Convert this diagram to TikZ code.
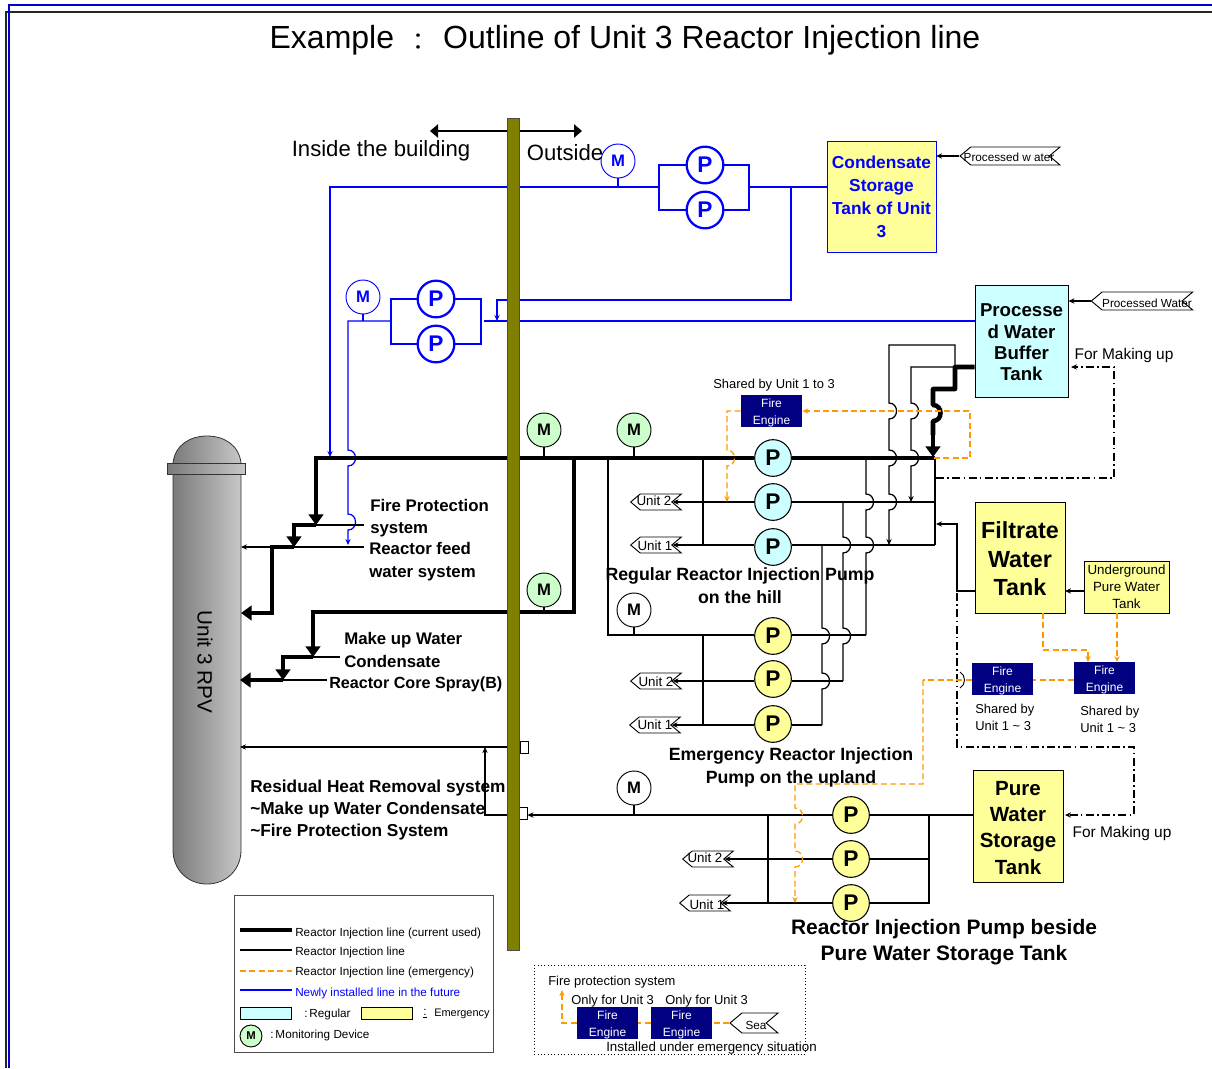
\documentclass[tikz,border=0pt]{standalone}
\usepackage{fontspec}
\setmainfont{Liberation Sans}
\newfontfamily\cjkfont{Noto Sans CJK JP}
\usetikzlibrary{arrows.meta,shapes.symbols,positioning}

\definecolor{wallolive}{RGB}{128,128,0}
\definecolor{regcyan}{RGB}{204,255,255}
\definecolor{emgyellow}{RGB}{255,255,153}
\definecolor{mongreen}{RGB}{204,255,204}
\definecolor{enginenavy}{RGB}{0,0,128}
\definecolor{emgorange}{RGB}{255,153,0}
\definecolor{newblue}{RGB}{0,0,255}

% line hop, bulging right, on a vertical run
\newcommand{\hopdown}[2]{-- (#1,#2-8) .. controls (#1+10,#2-8) and (#1+10,#2+8) .. (#1,#2+8)}
\newcommand{\hopup}[2]{-- (#1,#2+8) .. controls (#1+10,#2+8) and (#1+10,#2-8) .. (#1,#2-8)}
\newcommand{\fireengine}{\rule{0pt}{9.5pt}Fire\\Engine}

\tikzset{
    thinline/.style={draw=black, line width=0.95pt},
    thickline/.style={draw=black, line width=3.4pt},
    newline/.style={draw=newblue, line width=0.95pt},
    emgline/.style={draw=emgorange, line width=0.95pt, dash pattern=on 4.5pt off 2.5pt},
    makeline/.style={draw=black, line width=0.8pt, dash pattern=on 6pt off 2.5pt on 1.2pt off 2.5pt},
    thintip/.style={-{Stealth[length=4.5pt,width=4pt]}},
    thicktip/.style={-{Triangle[length=8pt,width=11pt]}},
    pumpbase/.style={circle, draw, line width=0.8pt, minimum size=27.5pt, inner sep=0pt, font=\fontsize{17}{17}\selectfont\bfseries},
    pumpreg/.style={pumpbase, fill=regcyan},
    pumpemg/.style={pumpbase, fill=emgyellow},
    pumpnew/.style={pumpbase, draw=newblue, text=newblue, line width=1.7pt, fill=white},
    monbase/.style={circle, draw, line width=0.7pt, minimum size=25.5pt, inner sep=0pt, font=\fontsize{12.5}{12.5}\selectfont\bfseries},
    monreg/.style={monbase, fill=mongreen},
    monwhite/.style={monbase, fill=white},
    monnew/.style={monbase, draw=newblue, text=newblue, fill=white},
    tankbox/.style={draw, rectangle, inner sep=0pt, align=center, font=\bfseries},
    engine/.style={rectangle, fill=enginenavy, text=white, minimum width=46pt, minimum height=24pt, inner sep=0pt, align=center, font=\fontsize{9}{12.7}\selectfont},
    flagtag/.style={draw, signal, signal to=west, signal from=east, signal pointer angle=80, minimum height=#1, inner sep=0pt, fill=white, line width=0.7pt},
    flagtext/.style={font=\fontsize{8.8}{11}\selectfont, inner sep=0pt},
    unittext/.style={font=\fontsize{10}{11}\selectfont, inner sep=0pt},
    boldlab/.style={font=\fontsize{12.6}{16.8}\selectfont\bfseries, inner sep=0pt},
    widelab/.style={font=\fontsize{13.3}{17.3}\selectfont\bfseries, inner sep=0pt},
    smalllab/.style={font=\fontsize{9.7}{12.8}\selectfont, inner sep=0pt},
    keytext/.style={font=\fontsize{8.8}{11}\selectfont, inner sep=0pt, anchor=west},
    wallport/.style={draw, rectangle, fill=white, minimum width=6pt, minimum height=9pt, inner sep=0pt, line width=0.6pt}
}

\begin{document}
\begin{tikzpicture}[x=0.75pt, y=-0.75pt]
    \useasboundingbox (0,0) rectangle (1212,1068);

    % Frame
    \coordinate (fa) at (6,1068);
    \coordinate (fb) at (6,11.5);
    \coordinate (fc) at (1212,11.5);
    \coordinate (fd) at (9,1068);
    \coordinate (fe) at (9,4.5);
    \coordinate (ff) at (1212,4.5);
    \draw[black!85, line width=1.5pt] (fa) -- (fb) -- (fc);
    \draw[blue!80!black, line width=1.5pt] (fd) -- (fe) -- (ff);

    % Titles
    \node[font=\fontsize{24}{28}\selectfont, inner sep=0pt] (title) at (625,40) {Example\hspace{9.4pt}\raisebox{-1.5pt}{\cjkfont\fontsize{18}{18}\selectfont ：}\hspace{9.4pt}Outline of Unit 3 Reactor Injection line};
    \node[font=\fontsize{16.6}{20}\selectfont, inner sep=0pt] (inside) at (381,151) {Inside the building};
    \node[font=\fontsize{16.6}{20}\selectfont, inner sep=0pt] (outside) at (565,153) {Outside};
    \coordinate (sideleft) at (430,131);
    \coordinate (sideright) at (582,131);
    \draw[thinline, {Triangle[length=6pt,width=10pt]}-{Triangle[length=6pt,width=10pt]}] (sideleft) -- (sideright);

    % Reactor vessel
    \shade[left color=black!52, right color=black!22, draw=black!80, line width=0.6pt] (173,463) .. controls (175,445) and (190,436) .. (207,436) .. controls (224,436) and (239,445) .. (241,463) -- (241,850) .. controls (241,870) and (226,884) .. (207,884) .. controls (188,884) and (173,870) .. (173,850) -- cycle;
    \shade[left color=black!52, right color=black!22, draw=black!80, line width=0.6pt] (167,463) rectangle (245,474);
    \node[rotate=-90, font=\fontsize{15.5}{16}\selectfont, inner sep=0pt] (rpv) at (205,662) {Unit 3 RPV};

    % Tanks
    \node[tankbox, draw=newblue, text=newblue, fill=emgyellow, minimum width=81.5pt, minimum height=83pt, font=\fontsize{13}{17.3}\selectfont\bfseries] (condensate) at (881.5,196.5) {Condensate\\Storage\\Tank of Unit\\3};
    \node[tankbox, fill=regcyan, minimum width=70pt, minimum height=84pt, font=\fontsize{14}{16}\selectfont\bfseries] (buffer) at (1021.5,341) {\rule{0pt}{12pt}Processe\\d Water\\Buffer\\Tank};
    \node[tankbox, fill=emgyellow, minimum width=67.5pt, minimum height=83pt, font=\fontsize{17.5}{21.5}\selectfont\bfseries] (filtrate) at (1020,557.5) {\rule{0pt}{14.5pt}Filtrate\\Water\\Tank};
    \node[tankbox, fill=emgyellow, minimum width=64pt, minimum height=39pt, font=\fontsize{10}{12.8}\selectfont] (underground) at (1126.5,587) {Underground\\Pure Water\\Tank};
    \node[tankbox, fill=emgyellow, minimum width=67.5pt, minimum height=84pt, font=\fontsize{15.4}{19.6}\selectfont\bfseries] (purewater) at (1018,826) {\rule{0pt}{13.5pt}Pure\\Water\\Storage\\Tank};

    % Fire engines
    \node[engine] (engtop) at (771.5,411) {\fireengine};
    \node[engine] (engfilt) at (1002.5,679) {\fireengine};
    \node[engine] (engunder) at (1104.5,678) {\fireengine};
    \node[engine] (engsea) at (607.5,1023) {\fireengine};
    \node[engine] (engonly) at (681.5,1023) {\fireengine};

    % Pumps
    \node[pumpnew] (pna) at (705,165) {P};
    \node[pumpnew] (pnb) at (705,210) {P};
    \node[pumpnew] (pnc) at (436,299) {P};
    \node[pumpnew] (pnd) at (436,344) {P};
    \node[pumpreg] (pra) at (773,458) {P};
    \node[pumpreg] (prb) at (773,502) {P};
    \node[pumpreg] (prc) at (773,547) {P};
    \node[pumpemg] (pea) at (773,636) {P};
    \node[pumpemg] (peb) at (773,679) {P};
    \node[pumpemg] (pec) at (773,724) {P};
    \node[pumpemg] (psa) at (851,815) {P};
    \node[pumpemg] (psb) at (851,859) {P};
    \node[pumpemg] (psc) at (851,903) {P};

    % Monitoring devices
    \node[monnew] (mna) at (618,161) {M};
    \node[monnew] (mnb) at (363,297) {M};
    \node[monreg] (mra) at (544,430) {M};
    \node[monreg] (mrb) at (634,430) {M};
    \node[monreg] (mrc) at (544,590) {M};
    \node[monwhite] (mwa) at (634,610) {M};
    \node[monwhite] (mwb) at (634,788) {M};

    % Unit tags
    \node[flagtag=12pt, minimum width=38pt] (tagra) at (656,502) {};
    \node[flagtag=12pt, minimum width=38pt] (tagrb) at (656,545) {};
    \node[flagtag=12pt, minimum width=38pt] (tagea) at (656,681) {};
    \node[flagtag=12pt, minimum width=38pt] (tageb) at (655,725) {};
    \node[flagtag=12pt, minimum width=38pt] (tagsa) at (708,859) {};
    \node[flagtag=12pt, minimum width=38pt] (tagsb) at (705,903) {};
    \node[flagtag=13.5pt, minimum width=75pt] (tagwater) at (1010,156) {};
    \node[flagtag=13.5pt, minimum width=76pt] (tagbuffer) at (1142,301) {};
    \node[flagtag=15pt, minimum width=36pt] (tagsea) at (754,1023) {};

    % Ports on the wall
    \node[wallport] (porta) at (524,747) {};
    \node[wallport] (portb) at (523,813) {};

    % Blue line from condensate tank
    \coordinate (bluejoin) at (791,187);
    \coordinate (blueleft) at (330,187);
    \coordinate (blueend) at (330,457);
    \coordinate (crossa) at (659,187);
    \coordinate (crossb) at (749,187);
    \coordinate (stemna) at (618,187);
    \draw[newline] (condensate.west |- bluejoin) -- (crossb);
    \draw[newline] (crossb) |- (pna);
    \draw[newline] (crossb) |- (pnb);
    \draw[newline] (crossa) |- (pna);
    \draw[newline] (crossa) |- (pnb);
    \draw[newline, thintip] (crossa) -- (blueleft) -- (blueend);
    \draw[newline] (mna) -- (stemna);

    % Blue line from buffer tank
    \coordinate (bluedrop) at (497,321);
    \coordinate (blueturn) at (497,300);
    \coordinate (bluehalf) at (791,300);
    \coordinate (crossc) at (391,321);
    \coordinate (crossd) at (481,321);
    \coordinate (crosse) at (484,321);
    \coordinate (feedcorner) at (348,321);
    \coordinate (stemnb) at (363,321);
    \draw[newline] (buffer.west |- bluedrop) -- (crosse);
    \draw[newline, thintip] (bluejoin) -- (bluehalf) -- (blueturn) -- (bluedrop);
    \draw[newline] (crossd) |- (pnc);
    \draw[newline] (crossd) |- (pnd);
    \draw[newline] (crossc) |- (pnc);
    \draw[newline] (crossc) |- (pnd);
    \draw[newline, thintip] (crossc) -- (feedcorner) \hopdown{348}{458} \hopdown{348}{522} -- (348,545);
    \draw[newline] (mnb) -- (stemnb);

    % Thick injection lines inside the building
    \coordinate (maina) at (316,458);
    \coordinate (mainb) at (316,525);
    \coordinate (mainc) at (294,525);
    \coordinate (maind) at (294,547);
    \coordinate (maine) at (272,547);
    \coordinate (mainf) at (272,613);
    \coordinate (maing) at (241,613);
    \coordinate (mainh) at (574,458);
    \coordinate (maini) at (574,612);
    \coordinate (mainj) at (313,612);
    \coordinate (maink) at (313,657);
    \coordinate (mainl) at (283,657);
    \coordinate (mainm) at (283,680);
    \coordinate (mainn) at (240,680);
    \coordinate (fireend) at (364,525);
    \coordinate (feedend) at (364,547);
    \coordinate (feedtip) at (241,547);
    \coordinate (makeend) at (340,657);
    \coordinate (sprayend) at (327,680);
    \draw[thinline] (mainb) -- (fireend);
    \draw[thinline, thintip] (feedend) -- (feedtip);
    \draw[thinline] (maink) -- (makeend);
    \draw[thinline] (mainm) -- (sprayend);
    \draw[thickline, thicktip] (pra) -- (maina) -- (mainb);
    \draw[thickline, thicktip] (mainb) -- (mainc) -- (maind);
    \draw[thickline, thicktip] (maind) -- (maine) -- (mainf) -- (maing);
    \draw[thickline, thicktip] (mainh) -- (maini) -- (mainj) -- (maink);
    \draw[thickline, thicktip] (maink) -- (mainl) -- (mainm);
    \draw[thickline, thicktip] (mainm) -- (mainn);
    \draw[thinline] (mra) -- (mra |- mainh);
    \draw[thinline] (mrb) -- (mrb |- mainh);
    \draw[thinline] (mrc) -- (mrc |- maini);

    % Regular pumps on the hill
    \coordinate (hillr) at (935,458);
    \coordinate (hillb) at (935,502);
    \coordinate (hillc) at (935,545);
    \coordinate (hilla) at (703,458);
    \coordinate (hilld) at (703,502);
    \coordinate (hille) at (703,545);
    \coordinate (hillf) at (608,458);
    \coordinate (hillg) at (608,635);
    \draw[thickline] (pra) -- (hillr);
    \draw[thinline] (hilla) -- (hille);
    \draw[thinline] (hillr) -- (hillc);
    \draw[thinline] (hilld) -- (prb) -- (hillb);
    \draw[thinline] (hille) -- (prc.west |- hille);
    \draw[thinline] (prc.east |- hille) -- (hillc);
    \draw[thinline, thintip] (hilld) -- (tagra);
    \draw[thinline, thintip] (hille) -- (tagrb);

    % Emergency pumps on the upland
    \coordinate (upa) at (703,635);
    \coordinate (upb) at (703,681);
    \coordinate (upc) at (703,725);
    \coordinate (upd) at (843,681);
    \coordinate (upe) at (822,725);
    \coordinate (upf) at (866,635);
    \coordinate (upg) at (822,545);
    \coordinate (uph) at (843,502);
    \coordinate (upi) at (866,458);
    \draw[thinline] (hillf) -- (hillg) -- (pea.west |- hillg);
    \draw[thinline] (pea.east |- upf) -- (upf);
    \draw[thinline] (upa) -- (upc);
    \draw[thinline] (upb) -- (peb.west |- upb);
    \draw[thinline] (peb.east |- upb) -- (upd);
    \draw[thinline] (upc) -- (pec.west |- upc);
    \draw[thinline] (pec.east |- upc) -- (upe);
    \draw[thinline, thintip] (upb) -- (tagea);
    \draw[thinline, thintip] (upc) -- (tageb);
    \draw[thinline] (upf) \hopup{866}{545} \hopup{866}{502} -- (upi);
    \draw[thinline] (upd) \hopup{843}{636} \hopup{843}{545} -- (uph);
    \draw[thinline] (upe) \hopup{822}{681} \hopup{822}{636} -- (upg);

    % Lines out of the buffer tank
    \coordinate (bufa) at (955,367);
    \coordinate (bufb) at (955,389);
    \coordinate (bufc) at (933,389);
    \coordinate (bufd) at (933,457);
    \coordinate (bufe) at (955,345);
    \coordinate (buff) at (889,345);
    \coordinate (bufg) at (889,545);
    \coordinate (bufh) at (911,367);
    \coordinate (bufi) at (911,502);
    \coordinate (bufj) at (933,435);
    \draw[thinline, thintip] (bufa) -- (bufe) -- (buff) \hopdown{889}{411} \hopdown{889}{458} \hopdown{889}{502} -- (bufg);
    \draw[thinline, thintip] (bufa) -- (bufh) \hopdown{911}{411} \hopdown{911}{458} -- (bufi);
    \draw[thickline, line join=round] (buffer.west |- bufa) -- (bufa) -- (bufb) -- (bufc) \hopdown{933}{413} -- (bufj);
    \draw[thickline, thicktip] (bufj) -- (bufd);

    % Filtrate water tank
    \coordinate (filta) at (957,591);
    \coordinate (filtb) at (957,524);
    \coordinate (filtc) at (936,524);
    \coordinate (filtd) at (1065,591);
    \draw[thinline, thintip] (filtrate.west |- filta) -- (filta) -- (filtb) -- (filtc);
    \draw[thinline, thintip] (underground.west |- filtd) -- (filtd);

    % Pure water storage tank
    \coordinate (pura) at (929,815);
    \coordinate (purb) at (768,815);
    \coordinate (purc) at (929,859);
    \coordinate (purd) at (768,859);
    \coordinate (pure) at (929,903);
    \coordinate (purf) at (768,903);
    \coordinate (purg) at (634,815);
    \draw[thinline] (purewater.west |- pura) -- (psa);
    \draw[thinline, thintip] (psa) -- (portb.east |- psa);
    \draw[thinline] (pura) -- (pure) -- (psc);
    \draw[thinline] (purb) -- (purf) -- (psc);
    \draw[thinline] (psb) -- (purc);
    \draw[thinline] (purd) -- (psb);
    \draw[thinline, thintip] (purd) -- (tagsa);
    \draw[thinline, thintip] (purf) -- (tagsb);
    \draw[thinline] (mwa) -- (mwa |- hillg);
    \draw[thinline] (mwb) -- (purg);

    % Residual heat removal line
    \coordinate (resa) at (485,747);
    \coordinate (resb) at (485,815);
    \coordinate (resc) at (240,747);
    \draw[thinline, thintip] (porta) -- (resc);
    \draw[thinline, thintip] (portb.west |- resb) -- (resb) -- (resa);

    % Making up lines
    \coordinate (mkaa) at (936,478);
    \coordinate (mkab) at (1114,478);
    \coordinate (mkac) at (1114,367);
    \coordinate (mkad) at (1071,367);
    \coordinate (mkba) at (957,593);
    \coordinate (mkbb) at (957,747);
    \coordinate (mkbc) at (1134,747);
    \coordinate (mkbd) at (1134,815);
    \coordinate (mkbe) at (1065,815);
    \draw[makeline, thintip] (mkaa) -- (mkab) -- (mkac) -- (mkad);
    \draw[makeline, thintip] (mkba) -- (mkbb) -- (mkbc) -- (mkbd) -- (mkbe);

    % Emergency lines
    \coordinate (ema) at (1043,613);
    \coordinate (emb) at (1043,650);
    \coordinate (emc) at (1088,650);
    \coordinate (emd) at (1088,662);
    \coordinate (eme) at (1117,613);
    \coordinate (emf) at (1117,662);
    \coordinate (emg) at (923,680);
    \coordinate (emh) at (923,784);
    \coordinate (emi) at (795,784);
    \coordinate (emj) at (795,903);
    \coordinate (emk) at (934,458);
    \coordinate (eml) at (970,458);
    \coordinate (emm) at (970,411);
    \coordinate (emn) at (727,411);
    \coordinate (emo) at (727,502);
    \draw[emgline, thintip] (ema) -- (emb) -- (emc) -- (emd);
    \draw[emgline, thintip] (eme) -- (emf);
    \draw[emgline] (engunder.west |- emg) -- (engfilt.east |- emg);
    \draw[emgline] (engfilt.west |- emg) -- (emg);
    \draw[emgline, thintip] (emg) -- (emh) -- (emi) \hopdown{795}{816} \hopdown{795}{859} -- (emj);
    \draw[emgline, thintip] (emk) -- (eml) -- (emm) -- (engtop);
    \draw[emgline, thintip] (engtop) -- (emn) \hopdown{727}{458} -- (emo);
    \draw[thinline, line width=0.7pt] (960,672) .. controls (966,675) and (966,685) .. (960,688);

    % Tag arrows
    \draw[thinline, thintip] (tagwater) -- (condensate.east |- tagwater);
    \draw[thinline, thintip] (tagbuffer) -- (buffer.east |- tagbuffer);

    % Wall
    \node[draw=black!70, fill=wallolive, minimum width=9pt, minimum height=624pt, inner sep=0pt, line width=0.4pt] (wall) at (513.5,534) {};

    % Tag texts
    \node[flagtext] (txtwater) at (1009,157) {Processed w ater};
    \node[flagtext] (txtbuffer) at (1147,303) {Processed Water};
    \node[unittext] (txtra) at (654,501) {Unit 2};
    \node[unittext] (txtrb) at (655,546) {Unit 1};
    \node[unittext] (txtea) at (656,682) {Unit 2};
    \node[unittext] (txteb) at (655,725) {Unit 1};
    \node[unittext] (txtsa) at (705,858) {Unit 2};
    \node[unittext] (txtsb) at (707,905) {Unit 1};
    \node[flagtext] (txtsea) at (756,1025) {Sea};

    % Labels
    \node[boldlab, anchor=west, align=left] (lfire) at (370,518) {Fire Protection\\system};
    \node[boldlab, anchor=west, align=left] (lfeed) at (369,561.5) {Reactor feed\\water system};
    \node[boldlab, anchor=west, align=left] (lmake) at (344,650) {Make up Water\\Condensate};
    \node[boldlab, anchor=west, font=\fontsize{12.1}{16}\selectfont\bfseries] (lspray) at (329,684) {Reactor Core Spray(B)};
    \node[widelab, align=center] (lregular) at (740,586) {Regular Reactor Injection Pump\\on the hill};
    \node[widelab, align=center] (lupland) at (791,767) {Emergency Reactor Injection\\Pump on the upland};
    \node[boldlab, anchor=west, align=left, font=\fontsize{12.95}{16.8}\selectfont\bfseries] (lresidual) at (250,810) {Residual Heat Removal system\\\textasciitilde Make up Water Condensate\\\textasciitilde Fire Protection System};
    \node[boldlab, font=\fontsize{15.7}{19.6}\selectfont\bfseries, align=center] (lbeside) at (944,942) {Reactor Injection Pump beside\\Pure Water Storage Tank};
    \node[font=\fontsize{11.6}{15}\selectfont, inner sep=0pt] (lmakea) at (1124,355) {For Making up};
    \node[font=\fontsize{11.6}{15}\selectfont, inner sep=0pt] (lmakeb) at (1122,833) {For Making up};
    \node[smalllab] (lshared) at (774,385) {Shared by Unit 1 to 3};
    \node[smalllab, anchor=west, align=left] (lshareda) at (975,717) {Shared by\\Unit 1 \textasciitilde{} 3};
    \node[smalllab, anchor=west, align=left] (lsharedb) at (1080,719) {Shared by\\Unit 1 \textasciitilde{} 3};

    % Key
    \node[draw=black!70, fill=white, rectangle, minimum width=194pt, minimum height=118pt, inner sep=0pt] (keybox) at (363.5,973.5) {};
    \coordinate (keyaa) at (240,930);
    \coordinate (keyab) at (292,930);
    \coordinate (keyba) at (240,950);
    \coordinate (keybb) at (292,950);
    \coordinate (keyca) at (240,971);
    \coordinate (keycb) at (292,971);
    \coordinate (keyda) at (240,990);
    \coordinate (keydb) at (292,990);
    \draw[thickline] (keyaa) -- (keyab);
    \draw[thinline] (keyba) -- (keybb);
    \draw[emgline] (keyca) -- (keycb);
    \draw[newline] (keyda) -- (keydb);
    \node[keytext] (keya) at (295,933) {Reactor Injection line (current used)};
    \node[keytext] (keyb) at (295,952) {Reactor Injection line};
    \node[keytext] (keyc) at (295,972) {Reactor Injection line (emergency)};
    \node[keytext, text=newblue] (keyd) at (295,993) {Newly installed line in the future};
    \node[draw, fill=regcyan, rectangle, minimum width=38pt, minimum height=9pt, inner sep=0pt, line width=0.5pt] (keyreg) at (266,1013) {};
    \node[keytext] (keyrega) at (304,1014) {:\,Regular};
    \node[draw, fill=emgyellow, rectangle, minimum width=38pt, minimum height=9pt, inner sep=0pt, line width=0.5pt] (keyemg) at (387,1013) {};
    \node[keytext] (keyemga) at (423,1014) {\underline{:}};
    \node[keytext, font=\fontsize{8.2}{11}\selectfont] (keyemgb) at (434,1014) {Emergency};
    \node[monreg, minimum size=16.5pt, font=\fontsize{8.5}{9}\selectfont\bfseries] (keymon) at (251,1036) {M};
    \node[keytext] (keymona) at (270,1035) {:\,Monitoring Device};

    % Fire protection system
    \node[draw, dotted, rectangle, minimum width=203pt, minimum height=67pt, inner sep=0pt, line width=0.5pt] (firebox) at (669.5,1009.5) {};
    \node[smalllab, anchor=west] (lfirebox) at (548,982) {Fire protection system};
    \node[smalllab, anchor=west] (lonlya) at (571,1001) {Only for Unit 3};
    \node[smalllab, anchor=west] (lonlyb) at (665,1001) {Only for Unit 3};
    \node[smalllab, anchor=west, font=\fontsize{10}{12}\selectfont] (linstalled) at (606,1048) {Installed under emergency situation};
    \coordinate (firea) at (562,1023);
    \coordinate (fireb) at (562,990);
    \draw[emgline, thintip] (engsea) -- (firea) -- (fireb);
    \draw[emgline] (engonly) -- (engsea);
    \draw[emgline] (tagsea) -- (engonly);
\end{tikzpicture}
\end{document}
